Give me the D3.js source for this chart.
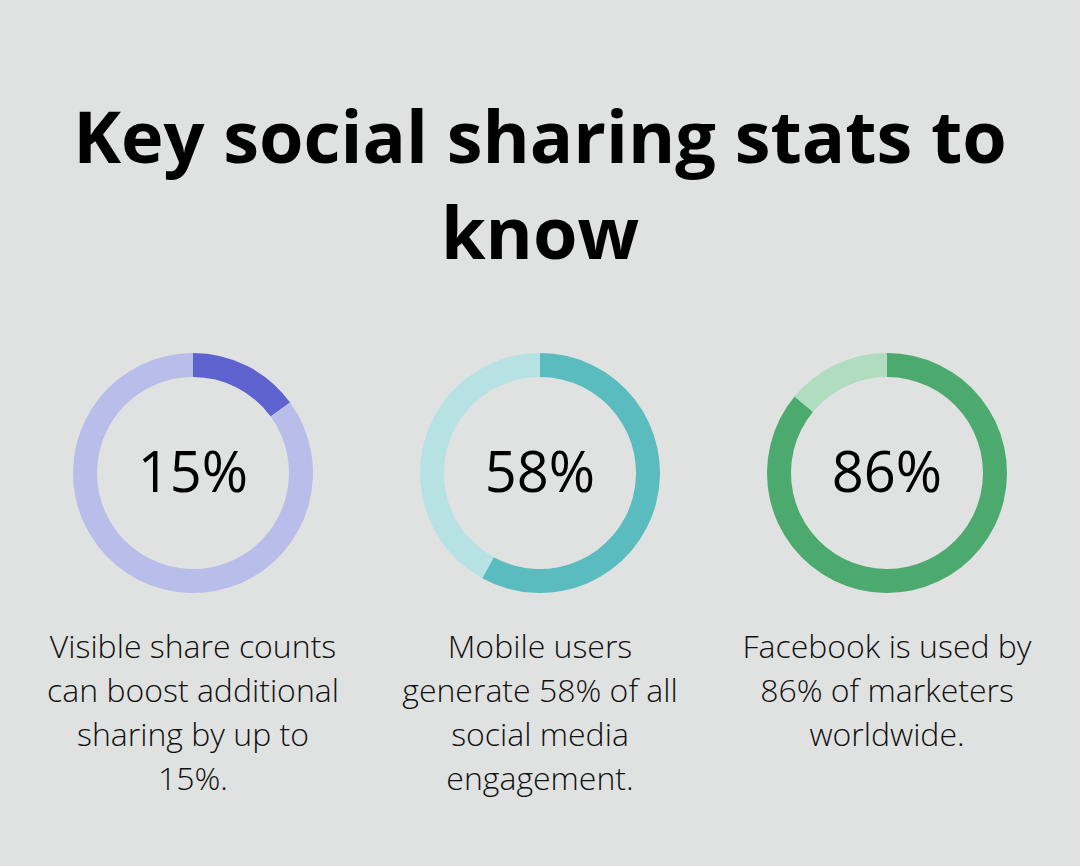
<!DOCTYPE html>
<html><head><meta charset="utf-8">
<script src="https://cdn.jsdelivr.net/npm/d3@7"></script>
<style>html,body{margin:0;padding:0;background:#e0e2e1;}</style>
</head><body>
<script>
const titleLines = ["Key social sharing stats to", "know"];
const values = [15, 58, 86];
const labels = ["15%", "58%", "86%"];
const captions = [
  ["Visible share counts", "can boost additional", "sharing by up to", "15%."],
  ["Mobile users", "generate 58% of all", "social media", "engagement."],
  ["Facebook is used by", "86% of marketers", "worldwide."]
];
const fgColors = ["#5f63d0", "#5bbcbf", "#4daa6e"];
const bgColors = ["#b9bdea", "#b7e2e4", "#b0dcc0"];

const W = 1080, H = 866;
const svg = d3.select("body").append("svg").attr("width", W).attr("height", H);
svg.append("rect").attr("width", W).attr("height", H).attr("fill", "#e0e2e1");

svg.append("g").selectAll("text").data(titleLines).join("text")
  .attr("x", W / 2).attr("y", (d, i) => 163 + i * 96)
  .attr("text-anchor", "middle")
  .attr("font-family", "'Open Sans', sans-serif").attr("font-weight", 700)
  .attr("font-size", 72).attr("fill", "#000").text(d => d);

const x = d3.scalePoint().domain(d3.range(values.length)).range([193, 887]);
const pie = d3.pie().sort(null).value(d => d);
const arc = d3.arc().innerRadius(96).outerRadius(120);

values.forEach((v, i) => {
  const g = svg.append("g").attr("transform", `translate(${x(i)},473)`);
  g.selectAll("path").data(pie([v, 100 - v])).join("path")
    .attr("d", arc).attr("fill", (d, j) => j === 0 ? fgColors[i] : bgColors[i]);
  g.append("text").attr("y", 19).attr("text-anchor", "middle")
    .attr("font-family", "'Open Sans', sans-serif").attr("font-size", 56)
    .attr("fill", "#000").text(labels[i]);
  svg.append("g").selectAll("text").data(captions[i]).join("text")
    .attr("x", x(i)).attr("y", (d, k) => 658 + k * 44)
    .attr("text-anchor", "middle")
    .attr("font-family", "'Open Sans', sans-serif").attr("font-weight", 300)
    .attr("font-size", 32).attr("fill", "#111").text(d => d);
});
</script>
</body></html>
